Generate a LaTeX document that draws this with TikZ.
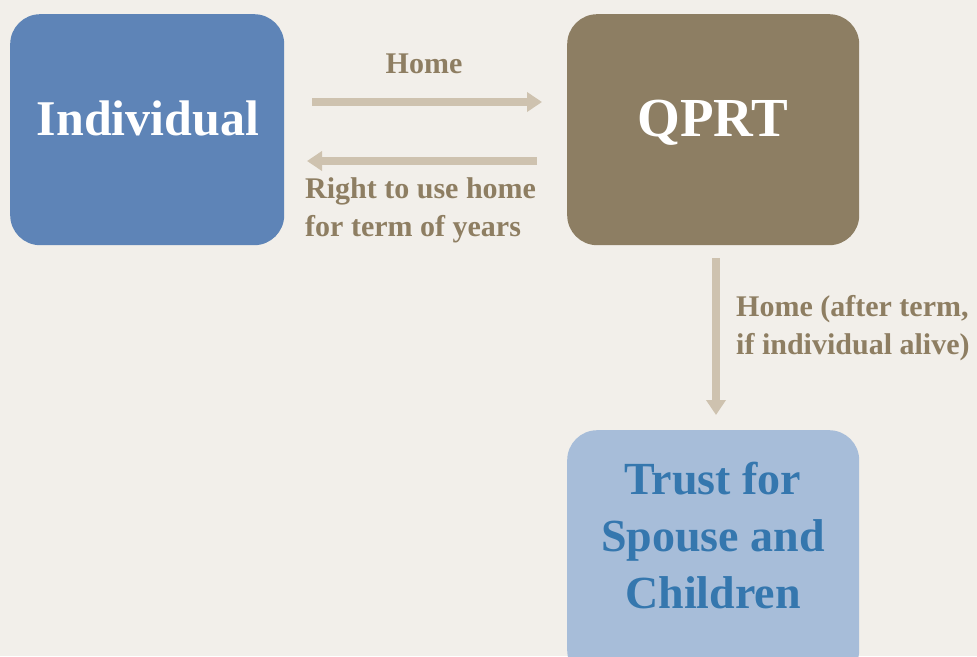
\documentclass[tikz,border=0pt]{standalone}
\usepackage{fontspec}
\setmainfont{Liberation Serif}
\usetikzlibrary{arrows.meta}
\definecolor{bgc}{HTML}{F2EFEA}
\definecolor{indc}{HTML}{5E84B7}
\definecolor{qprtc}{HTML}{8D7E63}
\definecolor{trustc}{HTML}{A7BDD9}
\definecolor{trusttxt}{HTML}{3577AE}
\definecolor{labc}{HTML}{8E7E62}
\definecolor{arrc}{HTML}{CEC2AF}
\begin{document}
\begin{tikzpicture}[x=1pt,y=-1pt,
  boxshape/.style={rounded corners=30pt, inner sep=0pt, anchor=north west},
  bigtext/.style={font=\fontsize{50}{60}\selectfont\bfseries},
  labtext/.style={font=\fontsize{30}{38}\selectfont\bfseries, text=labc, inner sep=0pt},
  flow/.style={draw=arrc, line width=8pt, -{Triangle[width=19pt,length=15pt]}}]
\useasboundingbox[fill=bgc] (0,0) rectangle (977,656);
\clip (0,0) rectangle (977,656);
\node[boxshape, fill=indc, minimum width=274pt, minimum height=231pt] (ind) at (10,14) {};
\node[bigtext, text=white] (indtxt) at (148,118) {Individual};
\node[boxshape, fill=qprtc, minimum width=292pt, minimum height=231pt] (qprt) at (567,14) {};
\node[font=\fontsize{55}{60}\selectfont\bfseries, text=white] (qprttxt) at (713,123) {QPRT};
\node[boxshape, fill=trustc, minimum width=292pt, minimum height=250pt] (trust) at (567,430) {};
\node[font=\fontsize{46}{57}\selectfont\bfseries, text=trusttxt, align=center] (trusttxt) at (713,536) {Trust for\\Spouse and\\Children};
\coordinate (a1s) at (312,102);
\coordinate (a1e) at (542,102);
\coordinate (a2s) at (537,161);
\coordinate (a2e) at (307,161);
\coordinate (a3s) at (716,258);
\coordinate (a3e) at (716,415);
\draw[flow] (a1s) -- (a1e);
\draw[flow] (a2s) -- (a2e);
\draw[flow] (a3s) -- (a3e);
\node[labtext] (lhome) at (424,64) {Home};
\node[labtext, align=left, anchor=west] (lright) at (305,210) {Right to use home\\for term of years};
\node[labtext, align=left, anchor=west] (lafter) at (736,328) {Home (after term,\\if individual alive)};
\end{tikzpicture}
\end{document}
